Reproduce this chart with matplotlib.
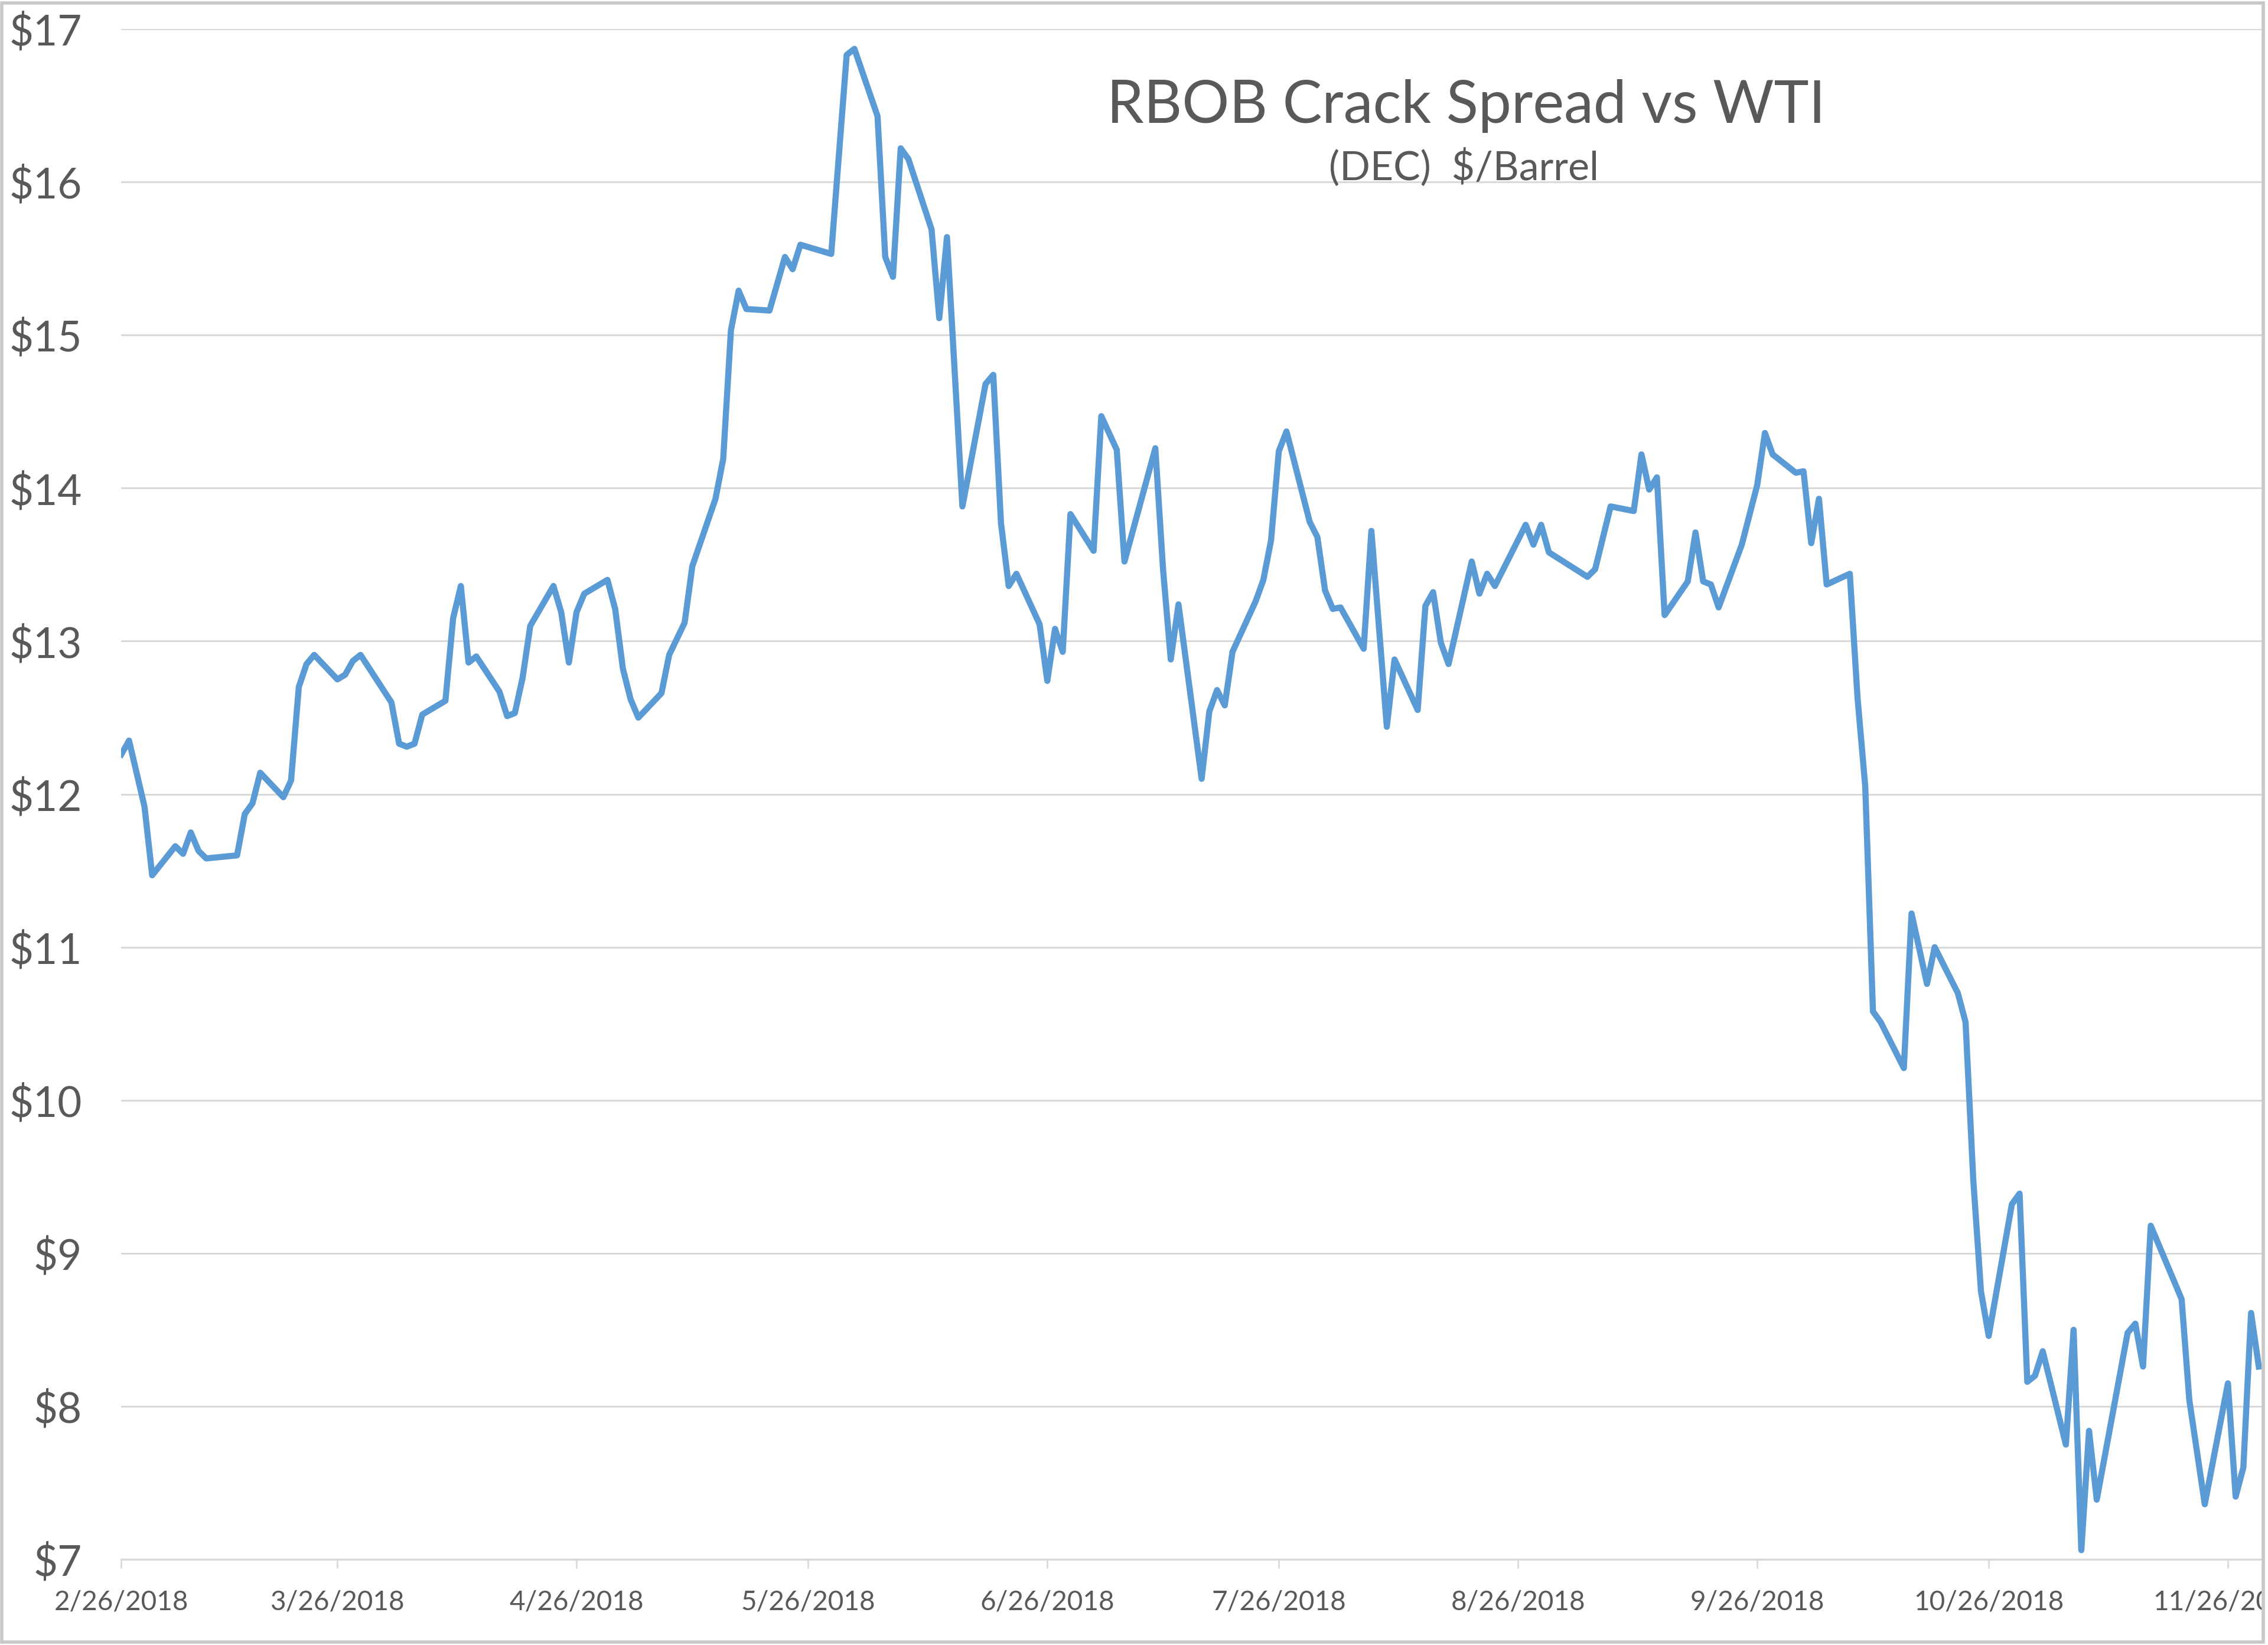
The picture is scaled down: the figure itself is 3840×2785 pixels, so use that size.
import numpy as np
import pandas as pd
import matplotlib
matplotlib.use("Agg")
import matplotlib.pyplot as plt
import matplotlib.dates as mdates
from matplotlib.patches import Rectangle

# RBOB crack spread vs WTI (Dec contract), $/barrel
dates = ["2018-02-26", "2018-02-27", "2018-03-01", "2018-03-02", "2018-03-05", "2018-03-06",
         "2018-03-07", "2018-03-08", "2018-03-09", "2018-03-13", "2018-03-14", "2018-03-15",
         "2018-03-16", "2018-03-19", "2018-03-20", "2018-03-21", "2018-03-22", "2018-03-23",
         "2018-03-26", "2018-03-27", "2018-03-28", "2018-03-29", "2018-04-02", "2018-04-03",
         "2018-04-04", "2018-04-05", "2018-04-06", "2018-04-09", "2018-04-10", "2018-04-11",
         "2018-04-12", "2018-04-13", "2018-04-16", "2018-04-17", "2018-04-18", "2018-04-19",
         "2018-04-20", "2018-04-23", "2018-04-24", "2018-04-25", "2018-04-26", "2018-04-27",
         "2018-04-30", "2018-05-01", "2018-05-02", "2018-05-03", "2018-05-04", "2018-05-07",
         "2018-05-08", "2018-05-10", "2018-05-11", "2018-05-14", "2018-05-15", "2018-05-16",
         "2018-05-17", "2018-05-18", "2018-05-21", "2018-05-23", "2018-05-24", "2018-05-25",
         "2018-05-29", "2018-05-31", "2018-06-01", "2018-06-04", "2018-06-05", "2018-06-06",
         "2018-06-07", "2018-06-08", "2018-06-11", "2018-06-12", "2018-06-13", "2018-06-15",
         "2018-06-18", "2018-06-19", "2018-06-20", "2018-06-21", "2018-06-22", "2018-06-25",
         "2018-06-26", "2018-06-27", "2018-06-28", "2018-06-29", "2018-07-02", "2018-07-03",
         "2018-07-05", "2018-07-06", "2018-07-10", "2018-07-11", "2018-07-12", "2018-07-13",
         "2018-07-16", "2018-07-17", "2018-07-18", "2018-07-19", "2018-07-20", "2018-07-23",
         "2018-07-24", "2018-07-25", "2018-07-26", "2018-07-27", "2018-07-30", "2018-07-31",
         "2018-08-01", "2018-08-02", "2018-08-03", "2018-08-06", "2018-08-07", "2018-08-09",
         "2018-08-10", "2018-08-13", "2018-08-14", "2018-08-15", "2018-08-16", "2018-08-17",
         "2018-08-20", "2018-08-21", "2018-08-22", "2018-08-23", "2018-08-27", "2018-08-28",
         "2018-08-29", "2018-08-30", "2018-09-04", "2018-09-05", "2018-09-07", "2018-09-10",
         "2018-09-11", "2018-09-12", "2018-09-13", "2018-09-14", "2018-09-17", "2018-09-18",
         "2018-09-19", "2018-09-20", "2018-09-21", "2018-09-24", "2018-09-26", "2018-09-27",
         "2018-09-28", "2018-10-01", "2018-10-02", "2018-10-03", "2018-10-04", "2018-10-05",
         "2018-10-08", "2018-10-09", "2018-10-10", "2018-10-11", "2018-10-12", "2018-10-15",
         "2018-10-16", "2018-10-18", "2018-10-19", "2018-10-22", "2018-10-23", "2018-10-24",
         "2018-10-25", "2018-10-26", "2018-10-29", "2018-10-30", "2018-10-31", "2018-11-01",
         "2018-11-02", "2018-11-05", "2018-11-06", "2018-11-07", "2018-11-08", "2018-11-09",
         "2018-11-13", "2018-11-14", "2018-11-15", "2018-11-16", "2018-11-20", "2018-11-21",
         "2018-11-23", "2018-11-26", "2018-11-27", "2018-11-28", "2018-11-29", "2018-11-30"]

spread = [12.26, 12.35, 11.92, 11.47, 11.66, 11.61,
          11.75, 11.63, 11.58, 11.60, 11.87, 11.94,
          12.14, 11.98, 12.09, 12.70, 12.85, 12.91,
          12.75, 12.78, 12.87, 12.91, 12.60, 12.33,
          12.31, 12.33, 12.52, 12.61, 13.15, 13.36,
          12.86, 12.90, 12.67, 12.51, 12.53, 12.76,
          13.10, 13.36, 13.19, 12.86, 13.19, 13.31,
          13.40, 13.21, 12.82, 12.62, 12.50, 12.66,
          12.91, 13.12, 13.49, 13.93, 14.19, 15.03,
          15.29, 15.17, 15.16, 15.51, 15.43, 15.59,
          15.53, 16.83, 16.87, 16.43, 15.51, 15.38,
          16.22, 16.15, 15.69, 15.11, 15.64, 13.88,
          14.68, 14.74, 13.77, 13.36, 13.44, 13.11,
          12.74, 13.08, 12.93, 13.83, 13.59, 14.47,
          14.25, 13.52, 14.26, 13.47, 12.88, 13.24,
          12.10, 12.54, 12.68, 12.58, 12.93, 13.26,
          13.40, 13.66, 14.24, 14.37, 13.78, 13.68,
          13.33, 13.21, 13.22, 12.95, 13.72, 12.44,
          12.88, 12.55, 13.23, 13.32, 12.99, 12.85,
          13.52, 13.31, 13.44, 13.36, 13.76, 13.63,
          13.76, 13.58, 13.42, 13.47, 13.88, 13.85,
          14.22, 13.99, 14.07, 13.17, 13.39, 13.71,
          13.39, 13.37, 13.22, 13.63, 14.02, 14.36,
          14.22, 14.10, 14.11, 13.64, 13.93, 13.37,
          13.44, 12.63, 12.05, 10.58, 10.51, 10.21,
          11.22, 10.76, 11.00, 10.70, 10.51, 9.48,
          8.75, 8.46, 9.32, 9.39, 8.16, 8.20,
          8.36, 7.75, 8.50, 7.06, 7.84, 7.39,
          8.48, 8.54, 8.26, 9.18, 8.70, 8.04,
          7.36, 8.15, 7.41, 7.60, 8.61, 8.26]

tick_dates = ["2018-02-26", "2018-03-26", "2018-04-26", "2018-05-26", "2018-06-26",
              "2018-07-26", "2018-08-26", "2018-09-26", "2018-10-26", "2018-11-26"]
tick_labels = ["2/26/2018", "3/26/2018", "4/26/2018", "5/26/2018", "6/26/2018",
               "7/26/2018", "8/26/2018", "9/26/2018", "10/26/2018", "11/26/2018"]
y_ticks = [7, 8, 9, 10, 11, 12, 13, 14, 15, 16, 17]

W, H = 3840, 2785
grey_text = "#595959"
grid_col = "#D9D9D9"

x = pd.to_datetime(dates)
xt = pd.to_datetime(tick_dates)

fig = plt.figure(figsize=(W / 100, H / 100), dpi=100)
fig.patch.set_facecolor("white")

# plot area: 2/26 at x=205 px, $17 at y=49 px, $7 at y=2640 px; clipped at x=3831
left, right, top, bottom = 205.4, 3831, 49, 2640
ax = fig.add_axes([left / W, 1 - bottom / H, (right - left) / W, (bottom - top) / H])

ax.plot(x, spread, color="#5B9BD5", lw=7.5, solid_joinstyle="round", zorder=3)

x0 = mdates.date2num(xt[0])
ax.set_xlim(x0, x0 + (right - left) / 13.065)
ax.set_ylim(7, 17)

ax.set_yticks(y_ticks)
ax.set_yticklabels([f"${v}" for v in y_ticks], fontsize=51, color=grey_text, family="Lato")
ax.set_xticks(mdates.date2num(xt))
ax.set_xticklabels(tick_labels, fontsize=33, color=grey_text, family="Lato")

ax.tick_params(axis="y", length=0, pad=48)
ax.tick_params(axis="x", length=11, width=2, color=grid_col, pad=26)

ax.grid(axis="y", color=grid_col, lw=2.2, zorder=0)
ax.set_axisbelow(True)
for s in ["left", "right", "top"]:
    ax.spines[s].set_visible(False)
ax.spines["bottom"].set_color(grid_col)
ax.spines["bottom"].set_linewidth(2.5)

fig.text(2482 / W, 1 - 208 / H, "RBOB Crack Spread vs WTI", ha="center", va="baseline",
         fontsize=72, color=grey_text, family="Lato")
fig.text(2478 / W, 1 - 304 / H, "(DEC)  $/Barrel", ha="center", va="baseline",
         fontsize=49, color=grey_text, family="Lato")

# screenshot edge: white strip past the clipped chart and a light frame
fig.add_artist(Rectangle((right / W, 0), 1 - right / W, 1, transform=fig.transFigure,
                         facecolor="white", edgecolor="none", zorder=10))
fig.add_artist(Rectangle((3 / W, 5 / H), (3832 - 3) / W, (2780 - 5) / H, transform=fig.transFigure,
                         facecolor="none", edgecolor="#C8C8C8", lw=4, zorder=11))

fig.savefig("out.png", dpi=100, facecolor="white")
